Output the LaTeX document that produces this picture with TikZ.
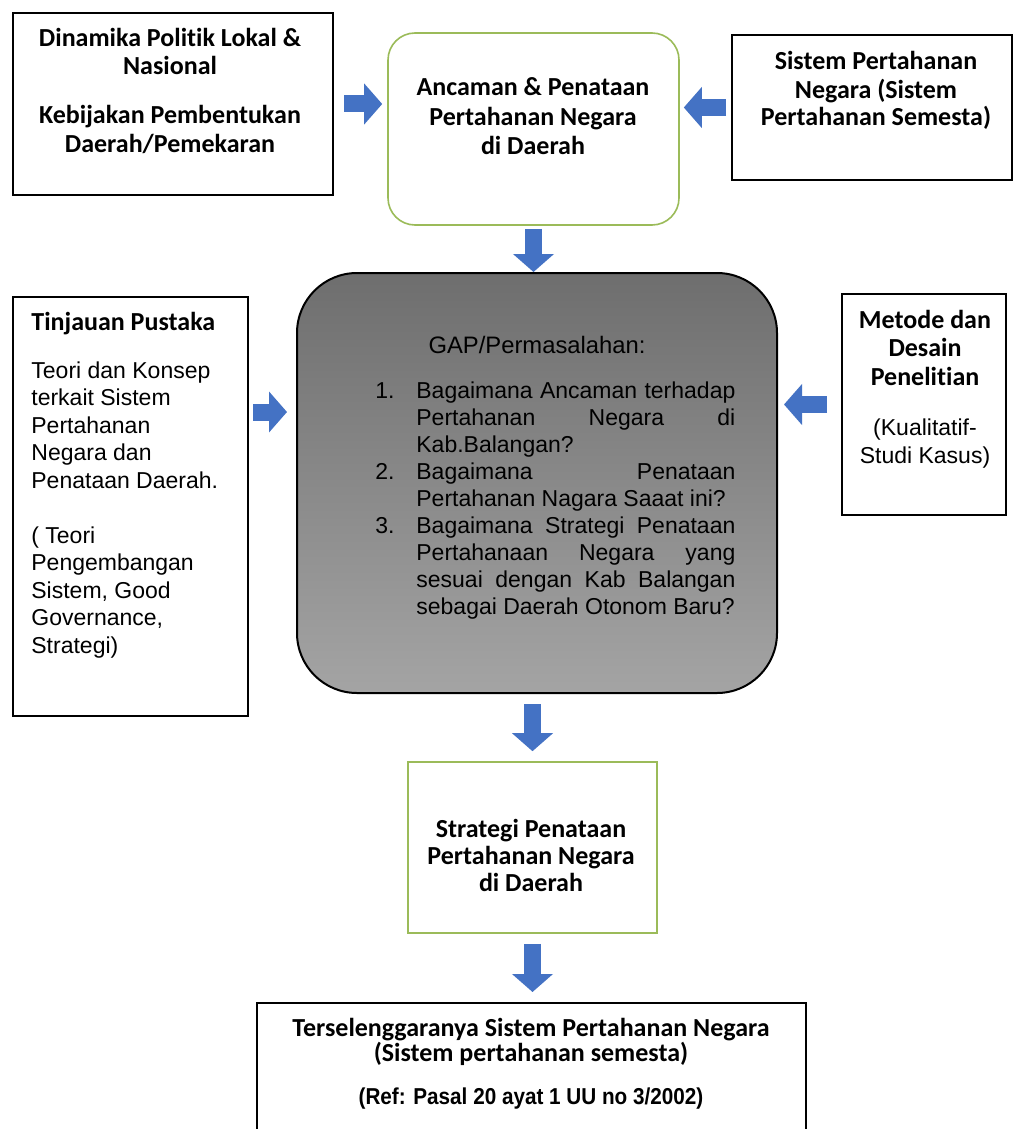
\documentclass[tikz,border=0pt]{standalone}
\usepackage{fontspec}
\setmainfont{Liberation Sans}[Ligatures=NoCommon]
\newfontfamily\cbf{Carlito}[Ligatures=NoCommon]
\usetikzlibrary{arrows.meta}
\definecolor{arrowblue}{HTML}{4472C4}
\definecolor{boxgreen}{HTML}{9BBB59}
\definecolor{gaptop}{HTML}{6E6E6E}
\definecolor{gapbot}{HTML}{A4A4A4}
\newcommand\jline[1]{\hbox to 159.5pt{#1}}
\begin{document}
\begin{tikzpicture}[x=0.5pt,y=-0.5pt,
  blackbox/.style={draw=black, line width=1pt, fill=white, inner sep=0pt},
  greenbox/.style={draw=boxgreen, line width=0.8pt, fill=white, inner sep=0pt},
  gapbox/.style={draw=black, line width=1pt, top color=gaptop, bottom color=gapbot, inner sep=0pt, rounded corners=30pt},
  head/.style={font=\cbf\bfseries\fontsize{13}{15}\selectfont, inner sep=0pt, anchor=base},
  body/.style={font=\fontsize{11.5}{13.75}\selectfont, inner sep=0pt, anchor=base},
  blockarrow/.style={draw=arrowblue, line width=8.5pt, -{Triangle[length=9pt,width=20pt]}}
]
\useasboundingbox (0,0) rectangle (1014,1129);
\fill[white] (0,0) rectangle (1014,1129);

% boxes
\node[blackbox, minimum width=160pt, minimum height=91pt] (b1) at (173,104) {};
\node[greenbox, rounded corners=13.5pt, minimum width=145.5pt, minimum height=96pt] (b2) at (533.5,129) {};
\node[blackbox, minimum width=140pt, minimum height=72.5pt] (b3) at (872,107.5) {};
\node[blackbox, minimum width=117.5pt, minimum height=209.5pt] (tinj) at (130.5,506.5) {};
\node[gapbox, minimum width=240pt, minimum height=210pt] (gap) at (537,483) {};
\node[blackbox, minimum width=82pt, minimum height=110.5pt] (met) at (924,404.5) {};
\node[greenbox, minimum width=124.5pt, minimum height=85.5pt] (strat) at (532.5,847.5) {};
\node[blackbox, minimum width=274.5pt, minimum height=78.5pt] (fin) at (531.5,1081.5) {};

% arrows
\coordinate (ym) at (0,412);
\draw[blockarrow, shorten <=5pt, shorten >=2.5pt] (b1.east) -- (b2.west |- b1.east);
\draw[blockarrow, shorten <=2.5pt, shorten >=2pt] (b3.west) -- (b2.east |- b3.west);
\draw[blockarrow, shorten <=1.5pt] (b2.south) -- (gap.north -| b2.south);
\draw[blockarrow, shorten <=2pt, shorten >=4.5pt] (tinj.east |- ym) -- (gap.west |- ym);
\draw[blockarrow, shorten <=7pt, shorten >=3pt] (met.west) -- (gap.east |- met.west);
\draw[blockarrow, shorten <=5pt, shorten >=5pt] (strat.north |- gap.south) -- (strat.north);
\draw[blockarrow, shorten <=5pt, shorten >=5pt] (strat.south) -- (fin.north -| strat.south);

% box 1 text
\node[head] (t1a) at (170,47) {Dinamika Politik Lokal \&};
\node[head] (t1b) at (170,75) {Nasional};
\node[head] (t1c) at (170,124) {Kebijakan Pembentukan};
\node[head] (t1d) at (170,152) {Daerah/Pemekaran};

% box 2 text
\node[head] (t2a) at (533,96) {Ancaman \& Penataan};
\node[head] (t2b) at (533,125.5) {Pertahanan Negara};
\node[head] (t2c) at (533,155) {di Daerah};

% box 3 text
\node[head] (t3a) at (876,70) {Sistem Pertahanan};
\node[head] (t3b) at (876,98) {Negara (Sistem};
\node[head] (t3c) at (876,126) {Pertahanan Semesta)};

% Tinjauan text
\node[head, anchor=base west] (tp0) at (31,330) {Tinjauan Pustaka};
\node[body, anchor=base west] (tp1) at (31,378) {Teori dan Konsep};
\node[body, anchor=base west] (tp2) at (31,405.5) {terkait Sistem};
\node[body, anchor=base west] (tp3) at (31,433) {Pertahanan};
\node[body, anchor=base west] (tp4) at (31,460.5) {Negara dan};
\node[body, anchor=base west] (tp5) at (31,488) {Penataan Daerah.};
\node[body, anchor=base west] (tp6) at (31,543) {( Teori};
\node[body, anchor=base west] (tp7) at (31,570.5) {Pengembangan};
\node[body, anchor=base west] (tp8) at (31,598) {Sistem, Good};
\node[body, anchor=base west] (tp9) at (31,625.5) {Governance,};
\node[body, anchor=base west] (tp10) at (31,653) {Strategi)};

% GAP text
\node[body, font=\fontsize{11.9}{14}\selectfont] (g0) at (537,353) {GAP/Permasalahan:};
\node[body, anchor=base west] (n1) at (375,398) {1.};
\node[body, anchor=base west] (n2) at (375,479) {2.};
\node[body, anchor=base west] (n3) at (375,533) {3.};
\node[body, anchor=base west] (g1) at (416,398) {\jline{Bagaimana\hfill Ancaman\hfill terhadap}};
\node[body, anchor=base west] (g2) at (416,425) {\jline{Pertahanan\hfill Negara\hfill di}};
\node[body, anchor=base west] (g3) at (416,452) {Kab.Balangan?};
\node[body, anchor=base west] (g4) at (416,479) {\jline{Bagaimana\hfill Penataan}};
\node[body, anchor=base west] (g5) at (416,506) {Pertahanan Nagara Saaat ini?};
\node[body, anchor=base west] (g6) at (416,533) {\jline{Bagaimana\hfill Strategi\hfill Penataan}};
\node[body, anchor=base west] (g7) at (416,560) {\jline{Pertahanaan\hfill Negara\hfill yang}};
\node[body, anchor=base west] (g8) at (416,587) {\jline{sesuai\hfill dengan\hfill Kab\hfill Balangan}};
\node[body, anchor=base west] (g9) at (416,614) {sebagai Daerah Otonom Baru?};

% Metode text
\node[head] (m1) at (925,328) {Metode dan};
\node[head] (m2) at (925,356.5) {Desain};
\node[head] (m3) at (925,385) {Penelitian};
\node[body] (m4) at (925,435) {(Kualitatif-};
\node[body] (m5) at (925,463) {Studi Kasus)};

% Strategi text
\node[head] (s1) at (531,837) {Strategi Penataan};
\node[head] (s2) at (531,864) {Pertahanan Negara};
\node[head] (s3) at (531,891) {di Daerah};

% final text
\node[head] (f1) at (531,1036) {Terselenggaranya Sistem Pertahanan Negara};
\node[head] (f2) at (531,1061) {(Sistem pertahanan semesta)};
\node[body, font=\bfseries\fontsize{11.5}{13.75}\selectfont] (f3) at (531,1104) {\scalebox{0.9}[1]{(Ref: Pasal 20 ayat 1 UU no 3/2002)}};
\end{tikzpicture}
\end{document}
